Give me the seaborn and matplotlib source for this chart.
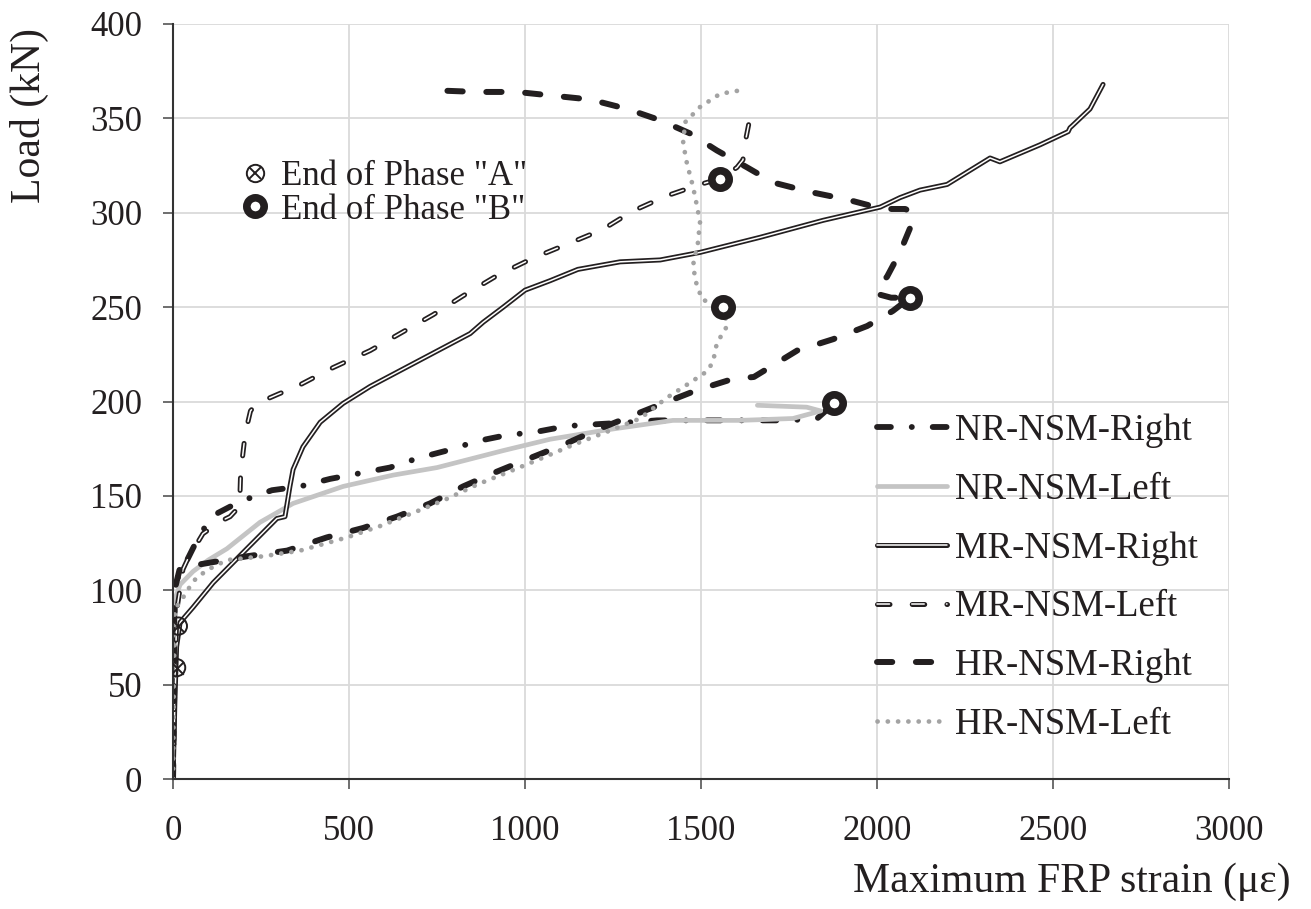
import numpy as np
import pandas as pd
import matplotlib
matplotlib.use("Agg")
import matplotlib.pyplot as plt
import matplotlib.patheffects as pe
from matplotlib.lines import Line2D
import seaborn as sns

# ---------------- data ----------------
nr_right_x = [0, 3, 5, 14, 40, 80, 128, 190, 281, 361, 446, 531, 616, 696, 778, 864, 943, 1034, 1119, 1207,
              1300, 1375, 1500, 1650, 1744, 1830, 1878]
nr_right_y = [0, 60, 100, 107, 116, 131, 141, 147, 153, 155, 159, 162, 165, 170, 174, 179, 182, 184, 187, 188,
              189, 190, 190, 190, 190, 191, 199]

nr_left_x = [0, 2, 5, 20, 57, 100, 153, 247, 341, 483, 625, 750, 938, 1071, 1233, 1420, 1611, 1761, 1840, 1800, 1660]
nr_left_y = [0, 50, 95, 103, 110, 116, 122, 136, 146, 155, 161, 165, 174, 180, 185, 190, 190, 191, 195, 197, 198]

mr_right_x = [0, 5, 10, 20, 57, 114, 199, 295, 318, 332, 341, 369, 418, 483, 560, 702, 844, 881, 938, 1000,
              1071, 1150, 1270, 1384, 1497, 1668, 1847, 2009, 2065, 2122, 2199, 2321, 2349, 2463, 2543, 2548,
              2554, 2605, 2642]
mr_right_y = [0, 40, 70, 83, 91, 104, 120, 138, 139, 155, 164, 176, 189, 199, 208, 222, 236, 242, 250, 259,
              264, 270, 274, 275, 279, 287, 296, 303, 308, 312, 315, 329, 327, 336, 343, 345, 346, 355, 368]

mr_left_x = [0, 5, 11, 28, 43, 85, 140, 162, 182, 190, 192, 205, 220, 238, 300, 352, 455, 560, 654, 739, 824,
             923, 1023, 1128, 1219, 1307, 1403, 1497, 1554, 1602, 1619, 1625, 1645]
mr_left_y = [0, 50, 90, 111, 117, 130, 137, 139, 143, 150, 162, 183, 195, 199, 204, 208, 218, 227, 237, 246, 256,
             267, 276, 284, 291, 301, 309, 315, 318, 324, 328, 337, 356]

hr_right_x = [0, 2, 4, 20, 85, 210, 324, 437, 540, 636, 730, 824, 909, 1014, 1108, 1204, 1298, 1392, 1488, 1591,
              1650, 1773, 1875, 1972, 2045, 2094, 2040, 2000, 2005, 2028, 2065, 2094, 2102, 2080, 2017, 1915, 1810,
              1705, 1631, 1545, 1469, 1384, 1290, 1185, 1080, 977, 864, 722]
hr_right_y = [0, 50, 100, 112, 114, 118, 121, 128, 133, 139, 146, 155, 162, 170, 177, 185, 192, 199, 206, 212,
              213, 227, 233, 240, 248, 255, 255, 257, 262, 266, 279, 292, 300, 302, 302, 307, 311,
              316, 324, 333, 342, 349, 355, 360, 362, 364, 364, 365]

hr_left_x = [0, 2, 5, 28, 48, 68, 110, 153, 256, 361, 494, 588, 682, 773, 864, 957, 1048, 1136, 1233, 1327, 1403,
             1469, 1517, 1534, 1545, 1574, 1563, 1503, 1486, 1477, 1491, 1497, 1489, 1477, 1460, 1449, 1455, 1497,
             1554, 1616]
hr_left_y = [0, 50, 90, 96, 102, 107, 112, 116, 118, 121, 128, 134, 141, 148, 156, 163, 170, 177, 184, 191, 202,
             210, 216, 221, 231, 240, 250, 254, 263, 272, 284, 295, 303, 314, 326, 337, 348, 356,
             363, 365]

phase_a_x = [15, 10]
phase_a_y = [81, 59]
phase_b_x = [1878, 1554, 1563, 2094]
phase_b_y = [199, 318, 250, 255]

series_labels = ["NR-NSM-Right", "NR-NSM-Left", "MR-NSM-Right", "MR-NSM-Left", "HR-NSM-Right", "HR-NSM-Left"]
x_ticks = [0, 500, 1000, 1500, 2000, 2500, 3000]
y_ticks = [0, 50, 100, 150, 200, 250, 300, 350, 400]

# ---------------- style ----------------
sns.set_theme(style="whitegrid")
plt.rcParams["font.family"] = ["Liberation Serif", "DejaVu Serif", "DejaVu Sans"]
plt.rcParams["lines.scale_dashes"] = False

BLACK = "#231f20"
fig = plt.figure(figsize=(13.11, 9.09), dpi=100)
ax = fig.add_axes([0.132, 0.143, 0.8055, 0.8306])


def draw(x, y, label, color, lw, dashes=None, cap="round", outline=None):
    df = pd.DataFrame({"x": x, "y": y})
    sns.lineplot(data=df, x="x", y="y", ax=ax, sort=False, estimator=None, color=color,
                 linewidth=lw, label=label, legend=False)
    ln = ax.lines[-1]
    ln.set_solid_capstyle(cap)
    ln.set_dash_capstyle(cap)
    ln.set_solid_joinstyle("round")
    if dashes is not None:
        ln.set_dashes(dashes)
    if outline is not None:
        ln.set_path_effects([pe.Stroke(linewidth=outline, foreground=BLACK), pe.Normal()])
    return ln


handles = []
handles.append(draw(nr_right_x, nr_right_y, series_labels[0], BLACK, 4.2, dashes=(10, 15, 0.1, 15)))
handles.append(draw(nr_left_x, nr_left_y, series_labels[1], "#c4c4c4", 3.4))
handles.append(draw(mr_right_x, mr_right_y, series_labels[2], "white", 1.1, outline=3.6))
handles.append(draw(mr_left_x, mr_left_y, series_labels[3], "white", 1.1, dashes=(9, 16), outline=3.6))
handles.append(draw(hr_right_x, hr_right_y, series_labels[4], BLACK, 4.3, dashes=(11, 17)))
handles.append(draw(hr_left_x, hr_left_y, series_labels[5], "#a3a3a3", 3.4, dashes=(0.1, 7.3)))

# phase markers
sns.scatterplot(x=phase_a_x, y=phase_a_y, ax=ax, marker="o", s=12.5 ** 2, facecolor="none",
                edgecolor=BLACK, linewidth=1.4, zorder=6, legend=False)
sns.scatterplot(x=phase_a_x, y=phase_a_y, ax=ax, marker="x", s=9 ** 2, color=BLACK,
                linewidth=1.4, zorder=6, legend=False)
sns.scatterplot(x=phase_b_x, y=phase_b_y, ax=ax, marker="o", s=12.5 ** 2, facecolor="white",
                edgecolor=BLACK, linewidth=5.5, zorder=7, legend=False)

# axes
ax.set_xlim(0, 3000)
ax.set_ylim(0, 400)
ax.set_xticks(x_ticks)
ax.set_yticks(y_ticks)
ax.set_facecolor("white")
ax.grid(True, color="#dadada", linewidth=1.3)
for s in ["top", "right"]:
    ax.spines[s].set_visible(False)
for s in ["left", "bottom"]:
    ax.spines[s].set_visible(True)
    ax.spines[s].set_color("#333333")
    ax.spines[s].set_linewidth(1.5)
ax.tick_params(axis="both", which="major", direction="out", length=7, width=1.2, color="#555555",
               labelsize=25, labelcolor=BLACK, left=True, bottom=True)
ax.tick_params(axis="y", pad=15)
ax.tick_params(axis="x", pad=19)

ax.set_xlabel("Maximum FRP strain (με)", fontsize=30, color=BLACK)
ax.xaxis.label.set_ha("right")
ax.xaxis.set_label_coords(1.058, -0.111)
ax.set_ylabel("Load (kN)", fontsize=30, color=BLACK)
ax.yaxis.set_label_coords(-0.117, 0.879)

# series legend
leg1 = ax.legend(handles=handles, labels=series_labels, loc="upper left",
                 bbox_to_anchor=(0.667, 0.484), frameon=False, fontsize=26.5,
                 handlelength=1.9, handletextpad=0.2, labelspacing=0.66,
                 borderpad=0, borderaxespad=0)
for t in leg1.get_texts():
    t.set_color(BLACK)
ax.add_artist(leg1)

# phase legend
h_a = (Line2D([], [], linestyle="none", marker="o", markersize=12.5, markerfacecolor="none",
              markeredgecolor=BLACK, markeredgewidth=1.4),
       Line2D([], [], linestyle="none", marker="x", markersize=9, color=BLACK, markeredgewidth=1.4))
h_b = Line2D([], [], linestyle="none", marker="o", markersize=12.5, markerfacecolor="white",
             markeredgecolor=BLACK, markeredgewidth=5.5)
leg2 = ax.legend(handles=[h_a, h_b], labels=['End of Phase "A"', 'End of Phase "B"'],
                 loc="upper left", bbox_to_anchor=(0.063, 0.820), frameon=False, fontsize=25,
                 handlelength=0.9, handletextpad=0.3, labelspacing=0.02,
                 borderpad=0, borderaxespad=0)
for t in leg2.get_texts():
    t.set_color(BLACK)

fig.savefig("out.png", dpi=100, facecolor="white")
